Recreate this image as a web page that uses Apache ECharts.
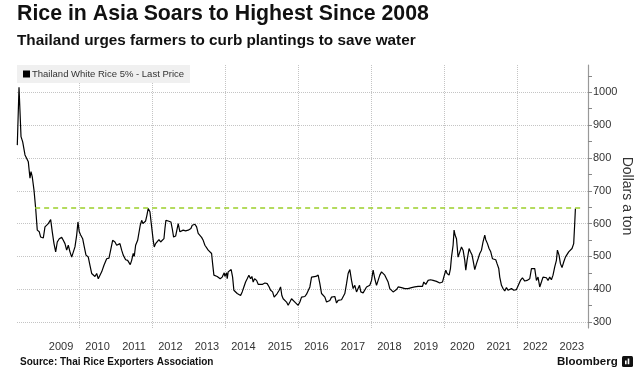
<!DOCTYPE html>
<html>
<head>
<meta charset="utf-8">
<script src="https://cdn.jsdelivr.net/npm/echarts@6/dist/echarts.min.js"></script>
<style>html,body{margin:0;padding:0;background:#fff}#c{width:643px;height:385px}</style>
</head>
<body>
<div id="c"></div>
<script>
// ---- data (decimal year, USD per ton) ----
const years = [
2008.301,2008.348,2008.403,2008.449,2008.512,2008.559,2008.603,2008.649,2008.677,2008.712,2008.759,2008.805,2008.849,2008.904,2008.942,2008.986,
2009.014,2009.060,2009.107,2009.151,2009.178,2009.216,2009.260,2009.307,2009.353,2009.397,2009.452,2009.518,2009.562,2009.608,2009.655,2009.699,2009.745,2009.792,2009.836,2009.882,2009.929,2009.964,
2010.000,2010.038,2010.093,2010.129,2010.184,2010.247,2010.293,2010.340,2010.384,2010.430,2010.477,2010.521,2010.567,2010.614,2010.677,2010.751,2010.814,2010.860,2010.915,2010.978,
2011.025,2011.068,2011.115,2011.162,2011.205,2011.271,2011.326,2011.362,2011.397,2011.436,2011.479,2011.507,2011.545,2011.600,2011.636,2011.671,2011.710,2011.745,2011.781,2011.819,2011.855,2011.890,2011.937,2011.984,
2012.027,2012.055,2012.093,2012.137,2012.184,2012.230,2012.274,2012.321,2012.348,2012.375,2012.438,2012.512,2012.548,2012.586,2012.641,2012.677,2012.712,2012.759,2012.805,2012.849,2012.915,2012.986,
2013.060,2013.096,2013.170,2013.216,2013.260,2013.307,2013.353,2013.397,2013.444,2013.490,2013.534,2013.581,2013.627,2013.655,2013.690,2013.737,2013.781,2013.827,2013.863,2013.918,2013.973,2013.992,
2014.038,2014.055,2014.082,2014.129,2014.164,2014.203,2014.238,2014.285,2014.329,2014.375,2014.422,2014.466,2014.512,2014.559,2014.603,2014.649,2014.696,2014.732,2014.767,2014.805,2014.860,2014.904,2014.951,
2015.025,2015.088,2015.151,2015.205,2015.244,2015.299,2015.342,2015.389,2015.425,2015.479,2015.518,2015.553,2015.589,2015.636,2015.682,2015.726,2015.773,2015.819,2015.863,2015.910,2015.956,
2016.000,2016.047,2016.093,2016.137,2016.184,2016.230,2016.274,2016.321,2016.367,2016.411,2016.485,2016.548,2016.595,2016.641,2016.685,2016.732,2016.778,2016.822,2016.868,2016.915,2016.959,
2017.005,2017.052,2017.096,2017.142,2017.189,2017.233,2017.279,2017.326,2017.370,2017.416,2017.463,2017.507,2017.553,2017.600,2017.644,2017.682,2017.718,2017.781,2017.827,2017.874,2017.918,2017.964,
2018.011,2018.055,2018.101,2018.148,2018.192,2018.238,2018.285,2018.329,2018.375,2018.422,2018.466,2018.512,2018.559,2018.603,2018.649,2018.696,2018.740,2018.786,2018.833,2018.877,2018.923,2018.970,
2019.014,2019.060,2019.107,2019.151,2019.197,2019.244,2019.288,2019.334,2019.408,2019.444,2019.499,2019.562,2019.627,2019.699,2019.792,2019.882,2019.956,2019.992,
2020.047,2020.082,2020.137,2020.175,2020.203,2020.247,2020.274,2020.301,2020.340,2020.384,2020.430,2020.477,2020.521,2020.567,2020.595,2020.630,2020.685,2020.723,2020.767,2020.795,2020.841,2020.888,2020.932,2020.978,
2021.025,2021.068,2021.115,2021.142,2021.189,2021.233,2021.279,2021.326,2021.362,2021.416,2021.452,2021.499,2021.526,2021.573,2021.616,2021.663,2021.710,2021.753,2021.800,2021.847,2021.910,2021.984,
2022.038,2022.093,2022.148,2022.211,2022.274,2022.348,2022.395,2022.438,2022.485,2022.532,2022.575,2022.622,2022.668,2022.712,2022.759,2022.805,2022.849,2022.896,2022.942,2022.986,
2023.033,2023.079,2023.107,2023.151,2023.189,2023.233,2023.279,2023.326,2023.370,2023.416,2023.463,2023.507,2023.553,2023.581,2023.600
];
const prices = [
839,1015,865,849,809,814,788,738,758,742,702,646,580,575,559,565,
556,590,595,600,605,612,575,539,514,544,554,558,549,539,519,534,514,498,495,529,565,605,
575,565,554,534,504,498,473,448,445,439,448,432,430,453,473,493,495,519,549,544,
534,529,539,519,504,490,488,483,475,488,509,500,534,549,554,595,610,600,605,608,626,646,636,590,
549,529,539,544,551,544,544,554,585,610,608,605,585,559,562,565,600,575,570,580,578,580,
585,595,598,590,570,565,558,549,534,529,519,521,509,478,443,446,439,443,432,437,450,439,
450,432,453,456,460,437,397,392,387,389,381,392,407,422,432,443,432,439,422,432,427,415,417,
415,419,417,407,397,392,376,378,387,397,407,381,371,366,361,351,361,371,366,361,356,
351,361,376,381,378,385,389,407,437,440,439,443,417,387,381,376,361,358,366,376,371,
378,358,366,361,368,371,387,417,448,460,427,402,412,392,387,412,392,389,392,407,402,412,
427,458,432,412,427,443,453,450,443,446,422,402,397,392,397,399,407,402,405,399,402,399,
402,407,405,409,407,412,409,412,409,422,415,427,429,427,424,419,422,437,
458,448,443,463,498,534,580,565,554,498,504,529,519,488,458,488,524,514,504,488,460,478,493,509,
519,544,565,551,539,524,514,493,488,490,478,463,437,412,402,395,405,397,392,402,397,399,
397,427,435,425,427,432,463,466,463,427,437,407,422,437,432,435,427,437,429,443,
468,488,519,504,478,466,483,498,500,514,509,524,539,600,646
];
const yearLabels = [2009,2010,2011,2012,2013,2014,2015,2016,2017,2018,2019,2020,2021,2022,2023];
const gridYears = [2010,2012,2014,2016,2018,2020,2022];
const priceLabels = [300,400,500,600,700,800,900,1000];
const priceTicks = [300,350,400,450,500,550,600,650,700,750,800,850,900,950,1000,1050];
const refLevel = 648;
const refStart = 2008.79;
const refEnd = 2023.80;
const seriesName = 'Thailand White Rice 5% - Last Price';

const xMin = 2008.293, xMax = 2023.945, yMin = 282, yMax = 1083;
const FONT = 'Liberation Sans';

const chart = echarts.init(document.getElementById('c'), null, {renderer: 'canvas'});
chart.setOption({
  animation: false,
  backgroundColor: '#fff',
  textStyle: {fontFamily: FONT},
  title: [
    {text: 'Rice in Asia Soars to Highest Since 2008', left: 17, top: 4, padding: 0,
     textStyle: {fontSize: 21.3, fontWeight: 'bold', color: '#111', fontFamily: FONT}},
    {text: 'Thailand urges farmers to curb plantings to save water', left: 17, top: 33, padding: 0,
     textStyle: {fontSize: 15.3, fontWeight: 'bold', color: '#111', fontFamily: FONT}},
    {text: 'Source: Thai Rice Exporters Association', left: 20, top: 357, padding: 0,
     textStyle: {fontSize: 10, fontWeight: 'bold', color: '#111', fontFamily: FONT}}
  ],
  legend: {
    data: [seriesName], left: 17, top: 65, icon: 'rect', itemWidth: 7, itemHeight: 7,
    padding: [4, 6, 4, 6], backgroundColor: '#f0f0f0', selectedMode: false,
    textStyle: {fontSize: 9.5, color: '#333', padding: [0, 0, 0, -3], fontFamily: FONT}
  },
  grid: {left: 17, right: 55, top: 65, bottom: 57, containLabel: false},
  xAxis: {
    type: 'value', min: xMin, max: xMax,
    axisLine: {show: false},
    axisTick: {show: false, customValues: gridYears},
    splitLine: {show: true, lineStyle: {type: 'dotted', color: '#c4c4c4', width: 1}},
    axisLabel: {customValues: yearLabels.map(y => y + 0.5), formatter: v => String(Math.floor(v)),
      fontSize: 11, color: '#333', margin: 13, fontFamily: FONT}
  },
  yAxis: [
    {
      type: 'value', position: 'right', min: yMin, max: yMax,
      axisLine: {show: true, lineStyle: {color: '#999', width: 1.2}},
      axisTick: {show: true, customValues: priceTicks, length: 4, inside: false, lineStyle: {color: '#888'}},
      axisLabel: {customValues: priceLabels, formatter: v => String(Math.round(v)),
        fontSize: 11, color: '#333', margin: 5, fontFamily: FONT},
      splitLine: {show: false}
    },
    {
      type: 'value', position: 'right', min: yMin, max: yMax,
      axisLine: {show: false},
      axisTick: {show: false, customValues: priceLabels},
      axisLabel: {show: false},
      splitLine: {show: true, lineStyle: {type: 'dotted', color: '#c4c4c4', width: 1}}
    }
  ],
  series: [{
    name: seriesName, type: 'line', yAxisIndex: 0,
    data: years.map((y, i) => [y, prices[i]]),
    showSymbol: false, symbol: 'none',
    lineStyle: {color: '#000', width: 1.2},
    itemStyle: {color: '#000'},
    markLine: {
      silent: true, symbol: ['none', 'none'], label: {show: false},
      lineStyle: {color: '#9ccf2a', type: [5, 4], width: 1.5},
      data: [[{coord: [refStart, refLevel]}, {coord: [refEnd, refLevel]}]]
    }
  }],
  graphic: [
    {type: 'text', x: 627, y: 196, rotation: -Math.PI / 2,
     style: {text: 'Dollars a ton', x: 0, y: 0, fill: '#333', font: '14px "Liberation Sans"', textAlign: 'center', textVerticalAlign: 'middle'}},
    {type: 'text', x: 557, y: 362,
     style: {text: 'Bloomberg', x: 0, y: 0, fill: '#111', font: 'bold 11.5px "Liberation Sans"', textAlign: 'left', textVerticalAlign: 'middle'}},
    {type: 'group', x: 622, y: 356, children: [
      {type: 'rect', shape: {x: 0, y: 0, width: 11, height: 11, r: 1.5}, style: {fill: '#111'}},
      {type: 'rect', shape: {x: 3, y: 4.5, width: 1.6, height: 4}, style: {fill: '#fff'}},
      {type: 'rect', shape: {x: 5.7, y: 2.5, width: 1.6, height: 6}, style: {fill: '#fff'}},
      {type: 'rect', shape: {x: 0, y: 8.5, width: 11, height: 1}, style: {fill: '#111'}}
    ]}
  ]
});
</script>
</body>
</html>
